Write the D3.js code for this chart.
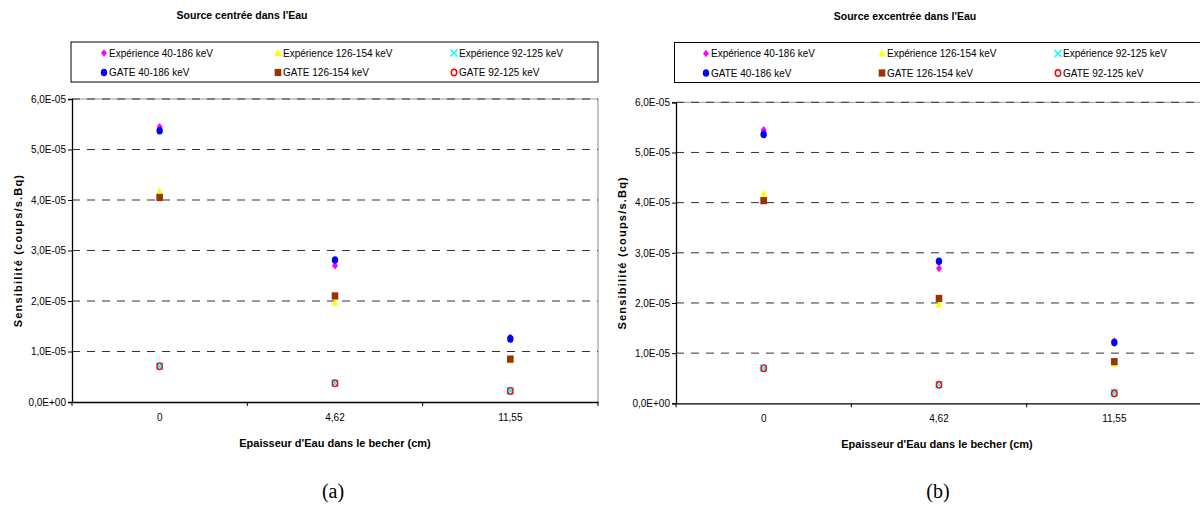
<!DOCTYPE html>
<html><head><meta charset="utf-8">
<script src="https://cdn.jsdelivr.net/npm/d3@7"></script>
<style>
html,body{margin:0;padding:0;background:#fff;}
svg{font-family:"Liberation Sans",Arial,sans-serif;}
</style></head>
<body><svg id="c" width="1200" height="506"></svg>
<script>
const categories = ["0", "4,62", "11,55"];
const seriesNames = ["Expérience 40-186 keV","Expérience 126-154 keV","Expérience 92-125 keV","GATE 40-186 keV","GATE 126-154 keV","GATE 92-125 keV"];
const seriesColors = ["#FF00FF","#FFFF00","#00FFFF","#0000FF","#993300","#FF0000"];
const seriesShapes = ["diamond","triangle","x","circle","square","ocircle"];
// Panel (a): source centrée
const expA_40_186  = [5.45e-5, 2.70e-5, 1.28e-5];
const expA_126_154 = [4.17e-5, 1.97e-5, 0.82e-5];
const expA_92_125  = [0.71e-5, 0.37e-5, 0.22e-5];
const gateA_40_186  = [5.37e-5, 2.81e-5, 1.25e-5];
const gateA_126_154 = [4.05e-5, 2.10e-5, 0.85e-5];
const gateA_92_125  = [0.71e-5, 0.37e-5, 0.22e-5];
// Panel (b): source excentrée
const expB_40_186  = [5.45e-5, 2.69e-5, 1.24e-5];
const expB_126_154 = [4.18e-5, 1.97e-5, 0.79e-5];
const expB_92_125  = [0.70e-5, 0.37e-5, 0.21e-5];
const gateB_40_186  = [5.36e-5, 2.83e-5, 1.21e-5];
const gateB_126_154 = [4.04e-5, 2.09e-5, 0.83e-5];
const gateB_92_125  = [0.70e-5, 0.37e-5, 0.20e-5];
const yTicks = [0, 1e-5, 2e-5, 3e-5, 4e-5, 5e-5, 6e-5];
const yTickLabels = ["0,0E+00","1,0E-05","2,0E-05","3,0E-05","4,0E-05","5,0E-05","6,0E-05"];
const titles = ["Source centrée dans l'Eau", "Source excentrée dans l'Eau"];
const xTitle = "Epaisseur d'Eau dans le becher (cm)";
const yTitle = "Sensibilité (coups/s.Bq)";
const captions = ["(a)", "(b)"];

const svg = d3.select("#c");

function marker(g, shape, color, x, y){
  if(shape==="diamond"){
    g.append("path").attr("d",`M${x},${y-3.8}L${x+3},${y}L${x},${y+3.8}L${x-3},${y}Z`).attr("fill",color);
  } else if(shape==="triangle"){
    g.append("path").attr("d",`M${x},${y-4.2}L${x+3.3},${y+3}L${x-3.3},${y+3}Z`).attr("fill",color);
  } else if(shape==="x"){
    g.append("path").attr("d",`M${x-3.5},${y-3.5}L${x+3.5},${y+3.5}M${x+3.5},${y-3.5}L${x-3.5},${y+3.5}`).attr("stroke",color).attr("stroke-width",1.5).attr("fill","none");
  } else if(shape==="circle"){
    g.append("ellipse").attr("cx",x).attr("cy",y).attr("rx",3.2).attr("ry",3.8).attr("fill",color);
  } else if(shape==="square"){
    g.append("rect").attr("x",x-3.3).attr("y",y-3.6).attr("width",6.6).attr("height",7.2).attr("fill",color);
  } else if(shape==="ocircle"){
    g.append("ellipse").attr("cx",x).attr("cy",y).attr("rx",2.7).attr("ry",3.3).attr("fill","none").attr("stroke",color).attr("stroke-width",1.4);
  }
}

const panels = [
  {x0:72, x1:598, yTop:99, yBot:402, titleX:242, titleY:19, legX:71, legW:527, legY:42, legH:40,
   legCols:[104,278,454], legRows:[53,72.5], yLabX:18, xLabX:335, capX:333, rightBorder:true,
   data:[expA_40_186,expA_126_154,expA_92_125,gateA_40_186,gateA_126_154,gateA_92_125]},
  {x0:676, x1:1202, yTop:102.3, yBot:403.3, titleX:905, titleY:20, legX:674.5, legW:560, legY:42.5, legH:40,
   legCols:[706,882,1058], legRows:[53.5,73], yLabX:622, xLabX:937, capX:938, rightBorder:false,
   data:[expB_40_186,expB_126_154,expB_92_125,gateB_40_186,gateB_126_154,gateB_92_125]}
];

panels.forEach((p, pi) => {
  const g = svg.append("g");
  const x = d3.scaleBand().domain(categories).range([p.x0, p.x1]);
  const y = d3.scaleLinear().domain([0, 6e-5]).range([p.yBot, p.yTop]);

  g.append("text").attr("x",p.titleX).attr("y",p.titleY).attr("text-anchor","middle")
    .style("font-size","10.5px").style("font-weight","bold").text(titles[pi]);

  g.append("rect").attr("x",p.legX).attr("y",p.legY).attr("width",p.legW).attr("height",p.legH)
    .attr("fill","#fff").attr("stroke","#000").attr("stroke-width",1);
  seriesNames.forEach((n,i)=>{
    const cx = p.legCols[i%3], cy = p.legRows[Math.floor(i/3)];
    marker(g, seriesShapes[i], seriesColors[i], cx, cy);
    g.append("text").attr("x",cx+5).attr("y",cy+3.5).style("font-size","10px").text(n);
  });

  g.append("line").attr("x1",p.x0).attr("x2",p.x1).attr("y1",p.yTop).attr("y2",p.yTop).attr("stroke","#999");
  if(p.rightBorder) g.append("line").attr("x1",p.x1).attr("x2",p.x1).attr("y1",p.yTop).attr("y2",p.yBot).attr("stroke","#888");

  g.selectAll(".grid").data(yTicks.filter(d=>d>0)).enter().append("line")
    .attr("x1",p.x0).attr("x2",p.x1).attr("y1",d=>y(d)).attr("y2",d=>y(d))
    .attr("stroke","#333").attr("stroke-width",1).attr("stroke-dasharray","8,7");

  const ya = d3.axisLeft(y).tickValues(yTicks).tickSize(4).tickPadding(2)
    .tickFormat((d,i)=>yTickLabels[i]);
  const yg = g.append("g").attr("transform",`translate(${p.x0},0)`).call(ya);
  yg.attr("font-family",null).attr("font-size",null);
  yg.select(".domain").attr("stroke","#000").attr("stroke-width",1.3);
  yg.selectAll(".tick line").attr("stroke","#000");
  yg.selectAll("text").style("font-size","10px").attr("fill","#000");

  const xa = d3.axisBottom(x).tickSize(0).tickPadding(12);
  const xg = g.append("g").attr("transform",`translate(0,${p.yBot})`).call(xa);
  xg.attr("font-family",null).attr("font-size",null);
  xg.select(".domain").attr("stroke","#000").attr("stroke-width",1.3);
  xg.selectAll("text").style("font-size","10px").attr("fill","#000");
  const bounds = categories.map(c=>x(c)).concat([p.x1]);
  g.selectAll(".bt").data(bounds).enter().append("line")
    .attr("x1",d=>d).attr("x2",d=>d).attr("y1",p.yBot).attr("y2",p.yBot+4).attr("stroke","#000");

  g.append("text").attr("transform",`translate(${p.yLabX+4},${(p.yTop+p.yBot)/2}) rotate(-90)`)
    .attr("text-anchor","middle").style("font-size","11px").style("font-weight","bold")
    .style("letter-spacing","1.2px").text(yTitle);
  g.append("text").attr("x",p.xLabX).attr("y",p.yBot+45).attr("text-anchor","middle")
    .style("font-size","11px").style("font-weight","bold").text(xTitle);

  g.append("text").attr("x",p.capX).attr("y",498).attr("text-anchor","middle")
    .style("font-family","'Liberation Serif','Times New Roman',serif").style("font-size","20px").text(captions[pi]);

  p.data.forEach((vals, si) => {
    vals.forEach((v, ci) => {
      marker(g, seriesShapes[si], seriesColors[si], x(categories[ci]) + x.bandwidth()/2, y(v));
    });
  });
});
</script></body></html>
